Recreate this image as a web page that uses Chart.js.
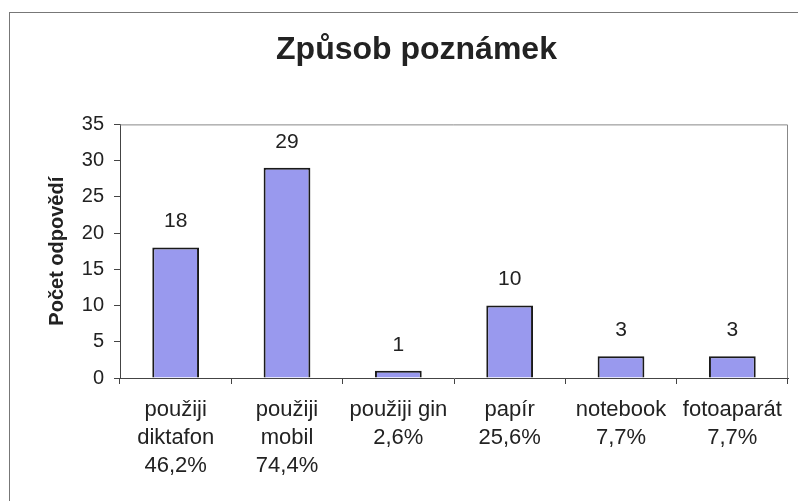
<!DOCTYPE html>
<html>
<head>
<meta charset="utf-8">
<script src="https://cdn.jsdelivr.net/npm/chart.js@4/dist/chart.umd.min.js"></script>
<style>
    html, body { margin: 0; padding: 0; background: #fff; }
    #wrap { position: relative; width: 798px; height: 501px; overflow: hidden; }
    #frame {
        position: absolute; left: 9px; top: 12px; width: 820px; height: 520px;
        border-left: 1px solid #777; border-top: 1px solid #777; pointer-events: none;
    }
</style>
</head>
<body>
<div id="wrap">
    <canvas id="graph" width="798" height="501"></canvas>
    <div id="frame"></div>
</div>
<script>
const categories = [
    [`použiji`, `diktafon`, `46,2%`],
    [`použiji`, `mobil`, `74,4%`],
    [`použiji gin`, `2,6%`],
    [`papír`, `25,6%`],
    [`notebook`, `7,7%`],
    [`fotoaparát`, `7,7%`]
]
const answers = [18, 29, 1, 10, 3, 3]
const title_text = `Způsob poznámek`
const y_title = `Počet odpovědí`

const font_family = `"Liberation Sans", Arial, sans-serif`

// value above every bar
const bar_values = {
    id: `bar_values`,
    afterDatasetsDraw(chart) {
        const ctx = chart.ctx
        ctx.save()
        ctx.font = `21px ${font_family}`
        ctx.fillStyle = `#222`
        ctx.textAlign = `center`
        ctx.textBaseline = `middle`
        chart.getDatasetMeta(0).data.forEach((bar, i) => {
            ctx.fillText(answers[i], bar.x, bar.y - 26)
        })
        ctx.restore()
    }
}

// gray top + right edge of the plot area
const plot_box = {
    id: `plot_box`,
    beforeDatasetsDraw(chart) {
        const a = chart.chartArea
        const ctx = chart.ctx
        ctx.save()
        ctx.strokeStyle = `#888`
        ctx.lineWidth = 1
        ctx.beginPath()
        ctx.moveTo(a.left, a.top + 0.5)
        ctx.lineTo(a.right - 0.5, a.top + 0.5)
        ctx.lineTo(a.right - 0.5, a.bottom)
        ctx.stroke()
        ctx.restore()
    }
}

new Chart(document.getElementById(`graph`), {
    type: `bar`,
    data: {
        labels: categories,
        datasets: [{
            data: answers,
            backgroundColor: `#9999ee`,
            borderColor: `#1a1a1a`,
            borderWidth: 2,
            barPercentage: 0.42,
            categoryPercentage: 1
        }]
    },
    options: {
        responsive: false,
        animation: false,
        layout: { padding: { left: 45, right: 10, top: 0, bottom: 0 } },
        plugins: {
            legend: { display: false },
            tooltip: { enabled: false },
            title: {
                display: true,
                text: title_text,
                color: `#222`,
                font: { family: font_family, size: 32, weight: `bold` },
                padding: { top: 31, bottom: 55 }
            }
        },
        scales: {
            x: {
                afterFit(scale) { scale.height = 123 },
                grid: { offset: true, drawOnChartArea: false, drawTicks: true, tickLength: 6, color: `#444` },
                border: { color: `#444`, width: 1 },
                ticks: {
                    color: `#222`,
                    font: { family: font_family, size: 22, lineHeight: 1.27 },
                    maxRotation: 0,
                    autoSkip: false,
                    padding: 12
                }
            },
            y: {
                min: 0,
                max: 35,
                afterFit(scale) { scale.width = 75 },
                grid: { drawOnChartArea: false, drawTicks: true, tickLength: 6, color: `#444` },
                border: { color: `#444`, width: 1 },
                ticks: {
                    stepSize: 5,
                    color: `#222`,
                    font: { family: font_family, size: 20 },
                    padding: 10
                },
                title: {
                    display: true,
                    text: y_title,
                    color: `#222`,
                    font: { family: font_family, size: 20, weight: `bold` },
                    padding: { top: 0, bottom: 0 }
                }
            }
        }
    },
    plugins: [bar_values, plot_box]
})
</script>
</body>
</html>
